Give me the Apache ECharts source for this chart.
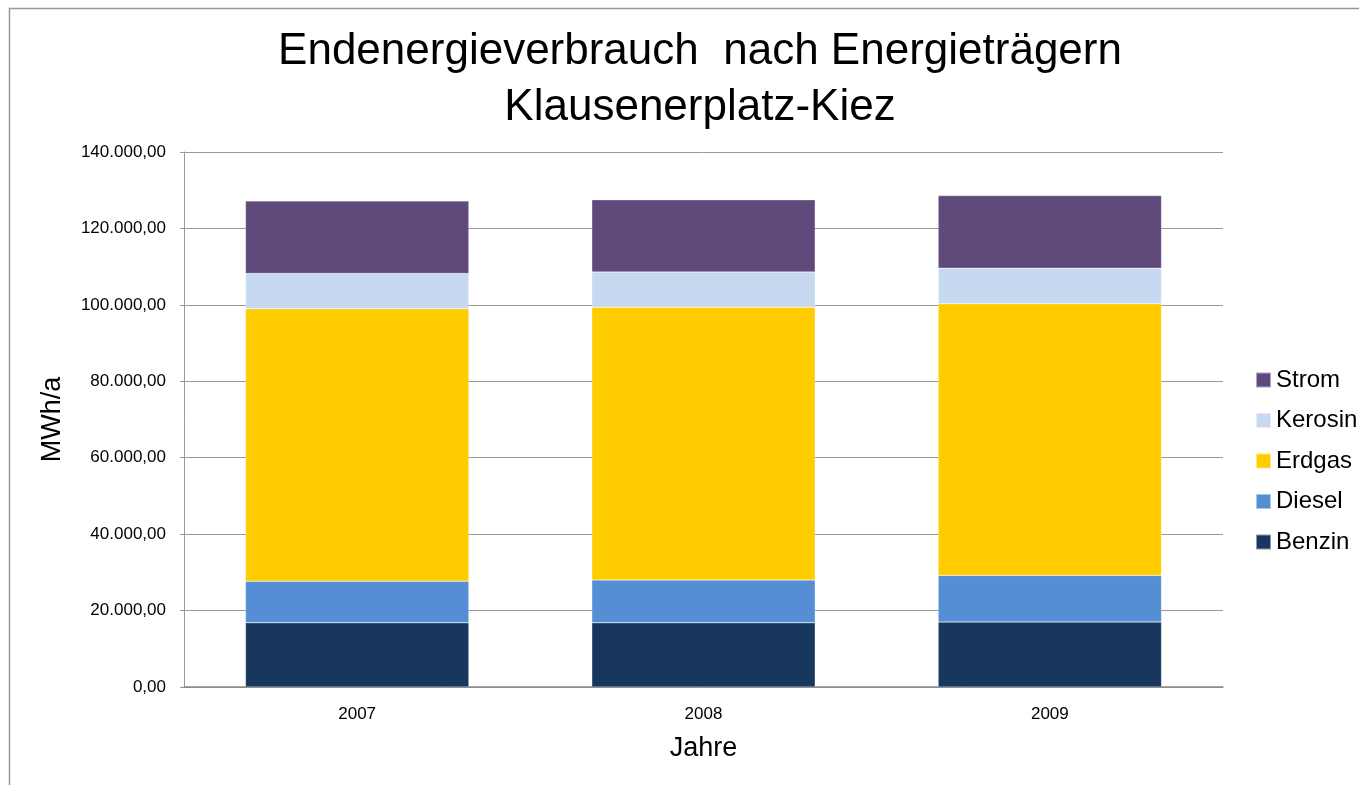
<!DOCTYPE html>
<html>
<head>
<meta charset="utf-8">
<script src="https://cdn.jsdelivr.net/npm/echarts@6/dist/echarts.min.js"></script>
<style>html,body{margin:0;padding:0;background:#fff;}#c{width:1359px;height:785px;}</style>
</head>
<body>
<div id="c"></div>
<script>
const categories = ['2007', '2008', '2009'];
const benzin  = [16800, 16800, 17000];
const diesel  = [10900, 11200, 12200];
const erdgas  = [71300, 71400, 71100];
const kerosin = [9200, 9200, 9300];
const strom   = [19000, 18900, 19000];
const yTicks = { min: 0, max: 140000, interval: 20000 };

const chart = echarts.init(document.getElementById('c'));
const font = 'Liberation Sans, Arial, sans-serif';
function fmt(v) {
  const s = Math.round(v).toString().replace(/\B(?=(\d{3})+(?!\d))/g, '.');
  return s + ',00';
}
function mk(name, data, color) {
  return { name, type: 'bar', stack: 'total', data, barCategoryGap: '35.5%',
    itemStyle: { color, borderColor: 'rgba(255,255,255,0.5)', borderWidth: 0.5 } };
}
chart.setOption({
  animation: false,
  graphic: [{ type: 'rect', left: 7, top: 6, shape: { width: 1400, height: 820 },
    style: { fill: 'none', stroke: '#999', lineWidth: 1.5 }, silent: true }],
  title: {
    text: 'Endenergieverbrauch  nach Energieträgern\nKlausenerplatz-Kiez',
    left: 695, top: 19, textAlign: 'center',
    textStyle: { fontFamily: font, fontSize: 44, fontWeight: 'normal', color: '#000', lineHeight: 56 }
  },
  legend: {
    orient: 'vertical', left: 1255, top: 368, itemWidth: 15, itemHeight: 15, itemGap: 16.5,
    padding: 0, icon: 'rect',
    data: ['Strom', 'Kerosin', 'Erdgas', 'Diesel', 'Benzin'],
    textStyle: { fontFamily: font, fontSize: 24, color: '#000' }
  },
  grid: { left: 184, right: 136, top: 152, bottom: 98, containLabel: false },
  xAxis: {
    type: 'category', data: categories,
    name: 'Jahre', nameLocation: 'middle', nameGap: 48,
    nameTextStyle: { fontFamily: font, fontSize: 27, color: '#000' },
    axisLine: { lineStyle: { color: '#888', width: 1.5 } },
    axisTick: { show: false },
    axisLabel: { fontFamily: font, fontSize: 17, color: '#000', margin: 19 }
  },
  yAxis: {
    type: 'value', min: yTicks.min, max: yTicks.max, interval: yTicks.interval,
    name: 'MWh/a', nameLocation: 'middle', nameGap: 118,
    nameTextStyle: { fontFamily: font, fontSize: 27, color: '#000' },
    axisLine: { show: true, lineStyle: { color: '#999', width: 1 } },
    axisTick: { show: true, length: 4, lineStyle: { color: '#999' } },
    splitLine: { lineStyle: { color: '#999', width: 1 } },
    axisLabel: { fontFamily: font, fontSize: 17, color: '#000', margin: 18, formatter: fmt }
  },
  series: [
    mk('Benzin', benzin, '#17375E'),
    mk('Diesel', diesel, '#558ED5'),
    mk('Erdgas', erdgas, '#FFCC00'),
    mk('Kerosin', kerosin, '#C6D9F1'),
    mk('Strom', strom, '#604A7B')
  ]
});
</script>
</body>
</html>
